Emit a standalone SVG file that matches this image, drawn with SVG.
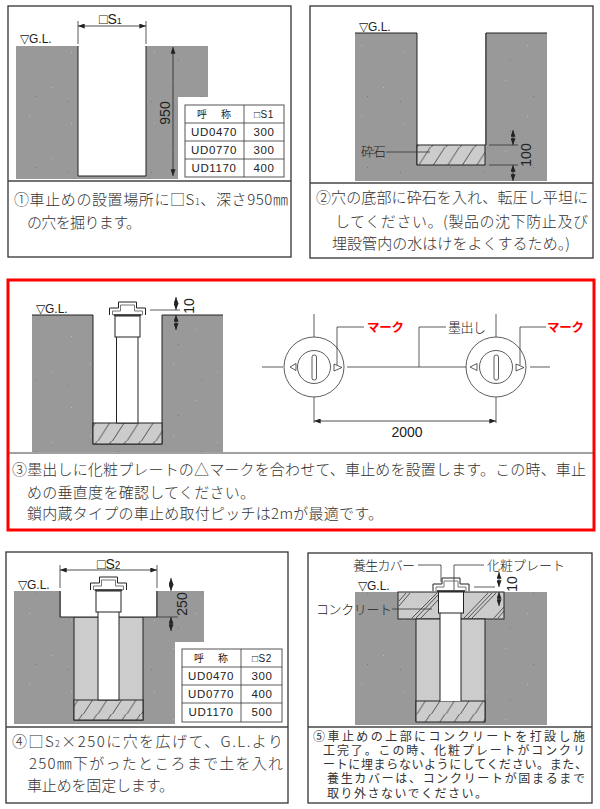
<svg xmlns="http://www.w3.org/2000/svg" xmlns:xlink="http://www.w3.org/1999/xlink" width="600" height="809" viewBox="0 0 600 809">
<style>
text{font-family:"Noto Sans CJK JP","Liberation Sans",sans-serif;fill:#222}
.l{font-family:"Liberation Sans",Arial,sans-serif;font-size:12px}
.n{font-family:"Liberation Sans",Arial,sans-serif;font-size:14px;text-anchor:middle}
.t{font-family:"Liberation Sans",Arial,sans-serif;font-size:11.5px;letter-spacing:.6px;text-anchor:middle}
.c{font-size:15px;fill:#333;font-weight:300}
.s{font-family:"Liberation Sans","Noto Sans CJK JP",sans-serif;font-size:12px;fill:#333}
.j{font-size:10px;text-anchor:middle}
.lb{font-size:13px;font-weight:300}
.panel{fill:#fff;stroke:#333;stroke-width:1.3}
.div{stroke:#444;stroke-width:1.3;fill:none}
.gr{fill:url(#soil);stroke:none}
.ln{fill:none;stroke:#222;stroke-width:1}
.thin{fill:none;stroke:#333;stroke-width:.8}
.dim{fill:none;stroke:#222;stroke-width:.8;marker-start:url(#a);marker-end:url(#a)}
.fill{fill:#ccc;stroke:#222;stroke-width:1}
.grav{fill:url(#hatch);stroke:#222;stroke-width:1}
.white{fill:#fff;stroke:#222;stroke-width:1}
.tb{fill:#fff;stroke:#555;stroke-width:1}
.red{fill:#f00;font-weight:700;font-size:12.5px}
</style>
<defs>
<marker id="a" viewBox="0 0 8 6" refX="8" refY="3" markerWidth="7" markerHeight="5" orient="auto-start-reverse" markerUnits="userSpaceOnUse"><path d="M0,0L8,3L0,6Z" fill="#222"/></marker>
<pattern id="soil" width="83" height="71" patternUnits="userSpaceOnUse">
<rect width="83" height="71" fill="#999"/>
<path d="M7 9h1v1h-1zM51 16h1v1h-1zM29 45h1v1h-1zM71 52h1v1h-1z" fill="#bbb"/>
<path d="M35 25h1v1h-1zM68 30h1v1h-1zM12 60h1v1h-1z" fill="#777"/>
</pattern>
<pattern id="hatch" width="14.5" height="21" patternUnits="userSpaceOnUse">
<rect width="14.5" height="21" fill="#ccc"/>
<path d="M-3.500 21L10 0M11 21L24.500 0" stroke="#333" stroke-width=".8" fill="none"/>
</pattern>
<g id="cap">
<path d="M-18,13V6H-9V0H9V6H18V13" fill="#fff" stroke="#222" stroke-width="1"/>
<path d="M-15,13V9H-7V3H7V9H15V13" fill="#fff" stroke="#777" stroke-width="1"/>
<path d="M-14,13H14" stroke="#222" stroke-width="1.6"/>
<rect x="-12.500" y="14" width="25" height="21" fill="#fff" stroke="#222"/>
</g>
</defs>
<rect width="600" height="809" fill="#fff"/>

<g id="panel1">
<rect class="panel" x="8" y="6" width="283" height="251"/>
<rect class="gr" x="16" y="46" width="192" height="133"/>
<rect x="178" y="97" width="112" height="83" fill="#fff"/>
<path d="M78,46V176H146V46" class="white"/>
<path class="div" d="M8,181H291"/>
<text class="l" x="20" y="43">▽G.L.</text>
<text class="l" x="99" y="24" style="font-size:14px">□S<tspan font-size="9">1</tspan></text>
<path class="thin" d="M78,21V44M146,21V44"/>
<path class="dim" d="M78,26H146"/>
<path class="dim" d="M173,47V176"/>
<text class="n" transform="translate(170,113) rotate(-90)">950</text>
<g id="table1">
<rect class="tb" x="185" y="105" width="99" height="72"/>
<path class="thin" d="M185,123H284M185,141H284M185,159H284M244,105V177"/>
<text class="j" x="214" y="118" textLength="34">呼称</text>
<text class="t" x="264" y="118" style="font-size:10px">□S1</text>
<text class="t" x="214" y="136">UD0470</text><text class="t" x="264" y="136">300</text>
<text class="t" x="214" y="154">UD0770</text><text class="t" x="264" y="154">300</text>
<text class="t" x="214" y="172">UD1170</text><text class="t" x="264" y="172">400</text>
</g>
<text class="c" x="14" y="205" textLength="274">①車止めの設置場所に□S<tspan font-size="9">1</tspan>、深さ950㎜</text>
<text class="c" x="27" y="228" textLength="114">の穴を掘ります。</text>
</g>

<g id="panel2">
<rect class="panel" x="310" y="6" width="283" height="252"/>
<rect class="gr" x="355" y="33" width="192" height="148"/>
<path d="M417,33V165H485V33" fill="#fff" stroke="none"/>
<path class="ln" d="M417,33V165M486,33V145"/>
<rect class="grav" x="417" y="145" width="68" height="20"/>
<path class="div" d="M310,183H593"/>
<path class="ln" d="M355,33H417M486,33H547"/>
<text class="l" x="359" y="31">▽G.L.</text>
<text class="lb" x="361" y="156" textLength="25">砕石</text>
<path class="thin" d="M386,152H430"/>
<path class="thin" d="M489,145H518M489,165H518"/>
<path class="dim" d="M513,130V145"/><path class="dim" d="M513,181V165"/>
<text class="n" transform="translate(531,155) rotate(-90)">100</text>
<text class="c" x="316" y="203" textLength="272">②穴の底部に砕石を入れ、転圧し平坦に</text>
<text class="c" x="335" y="227" textLength="253">してください。(製品の沈下防止及び</text>
<text class="c" x="332" y="249" textLength="238">埋設管内の水はけをよくするため。)</text>
</g>

<g id="panel3">
<rect x="8" y="280" width="586" height="250" fill="#fff" stroke="#f00" stroke-width="3"/>
<rect class="gr" x="32" y="315" width="191" height="137"/>
<path d="M93,315V444H162V315" class="white"/>
<rect class="grav" x="93" y="423" width="69" height="21"/>
<path class="white" d="M116.500,336V423H138V336"/>
<use xlink:href="#cap" href="#cap" x="127.500" y="302"/>
<path class="div" style="stroke-width:1" d="M9,453H593"/>
<path class="ln" d="M32,315H93M162,315H223"/>
<text class="l" x="36" y="313">▽G.L.</text>
<path class="thin" d="M150,310H180"/>
<path class="dim" d="M176,297V310"/><path class="dim" d="M176,330V315"/>
<text class="n" transform="translate(194,306) rotate(-90)">10</text>
<g id="marker-left">
<circle class="thin" cx="314" cy="367" r="30"/><circle class="thin" cx="314" cy="367" r="16.500"/>
<rect class="thin" x="312" y="355" width="4.500" height="25" rx="2"/>
<path class="thin" d="M296,363.500L290,367L296,370.500ZM334,364L342,367.500L334,371Z"/>
</g>
<g id="marker-right">
<circle class="thin" cx="496" cy="367" r="30"/><circle class="thin" cx="496" cy="367" r="16.500"/>
<rect class="thin" x="494" y="355" width="4.500" height="25" rx="2"/>
<path class="thin" d="M477,363.500L470,367L477,370.500ZM516,364L524,367.500L516,371Z"/>
</g>
<path class="thin" d="M262,367H283M347,367H466M530,367H550M314,314V337M496,314V337M314,397V423M496,397V423"/>
<path class="dim" d="M314,421H496"/>
<path class="thin" d="M337,365V327H364M419,367V327H446M520,365V327H546"/>
<text class="red" x="367" y="332" textLength="37">マーク</text>
<text class="red" x="547" y="332" textLength="37">マーク</text>
<text class="lb" x="448" y="332" textLength="38">墨出し</text>
<text class="n" x="407" y="437">2000</text>
<text class="c" x="12" y="475" textLength="574">③墨出しに化粧プレートの△マークを合わせて、車止めを設置します。この時、車止</text>
<text class="c" x="27" y="498" textLength="228">めの垂直度を確認してください。</text>
<text class="c" x="27" y="519" textLength="356">鎖内蔵タイプの車止め取付ピッチは2mが最適です。</text>
</g>

<g id="panel4">
<rect class="panel" x="6" y="552" width="282" height="251"/>
<rect class="gr" x="14" y="591" width="190" height="133"/>
<rect x="175" y="642" width="112" height="83" fill="#fff"/>
<rect class="fill" x="74" y="617" width="69" height="103"/>
<rect x="61" y="590" width="95" height="27" fill="#fff"/>
<path class="ln" d="M60,591V617H157V591"/>
<rect class="grav" x="74" y="700" width="69" height="20"/>
<path class="white" d="M98,612V700H119V612"/>
<use xlink:href="#cap" href="#cap" x="108.500" y="577"/>
<path class="div" d="M6,727H288"/>
<text class="l" x="18" y="589">▽G.L.</text>
<text class="l" x="97" y="569" style="font-size:14px">□S<tspan font-size="10">2</tspan></text>
<path class="thin" d="M60,565V588M157,565V588"/>
<path class="dim" d="M60,570H157"/>
<path class="thin" d="M157,617H178"/>
<path class="dim" d="M171,578V591"/><path class="dim" d="M171,631V617"/>
<text class="n" transform="translate(187,604) rotate(-90)">250</text>
<g id="table4">
<rect class="tb" x="182" y="649" width="100" height="73"/>
<path class="thin" d="M182,667H282M182,685H282M182,703H282M241,649V722"/>
<text class="j" x="211" y="662" textLength="34">呼称</text>
<text class="t" x="262" y="662" style="font-size:10px">□S2</text>
<text class="t" x="211" y="680">UD0470</text><text class="t" x="262" y="680">300</text>
<text class="t" x="211" y="698">UD0770</text><text class="t" x="262" y="698">400</text>
<text class="t" x="211" y="716">UD1170</text><text class="t" x="262" y="716">500</text>
</g>
<text class="c" x="12" y="747" textLength="271">④□S<tspan font-size="9">2</tspan>×250に穴を広げて、G.L.より</text>
<text class="c" x="29" y="769" textLength="254">250㎜下がったところまで土を入れ</text>
<text class="c" x="27" y="791" textLength="147">車止めを固定します。</text>
</g>

<g id="panel5">
<rect class="panel" x="308" y="553" width="284" height="250"/>
<rect class="gr" x="355" y="592" width="192" height="133"/>
<rect class="fill" x="398" y="592" width="106" height="27"/>
<rect class="fill" x="416" y="619" width="69" height="102"/>
<rect class="grav" x="416" y="701" width="69" height="21"/>
<rect x="440" y="612" width="21" height="89" fill="#fff" stroke="none"/>
<path class="ln" d="M440,612V701M461,612V701"/>
<path class="thin" d="M399,606L410,593M399,601L406,593M494,618L504,607M498,618L504,611M412,618L437,593M416,618L439,594M421,618L439,599M464,618L488,593M468,618L492,593M472,618L496,593"/>
<use xlink:href="#cap" href="#cap" x="451" y="578"/>
<path class="div" style="stroke-width:1.600" d="M308,727H592"/>
<text class="l" x="358" y="590">▽G.L.</text>
<text class="lb" x="353" y="570" textLength="62">養生カバー</text>
<text class="lb" x="487" y="570" textLength="78">化粧プレート</text>
<text class="lb" x="316" y="614" textLength="76">コンクリート</text>
<path class="thin" d="M418,565H441V582M484,565H454V590M392,609H432M474,587H495"/>
<path class="dim" d="M499,572V587"/><path class="dim" d="M499,606V592"/>
<text class="n" transform="translate(517,584) rotate(-90)">10</text>
<text class="s" x="313" y="741" textLength="272">⑤車止めの上部にコンクリートを打設し施</text>
<text class="s" x="323" y="755" textLength="262">工完了。この時、化粧プレートがコンクリ</text>
<text class="s" x="323" y="769" textLength="264">ートに埋まらないようにしてください。また、</text>
<text class="s" x="327" y="783" textLength="258">養生カバーは、コンクリートが固まるまで</text>
<text class="s" x="327" y="798" textLength="160">取り外さないでください。</text>
</g>
</svg>
